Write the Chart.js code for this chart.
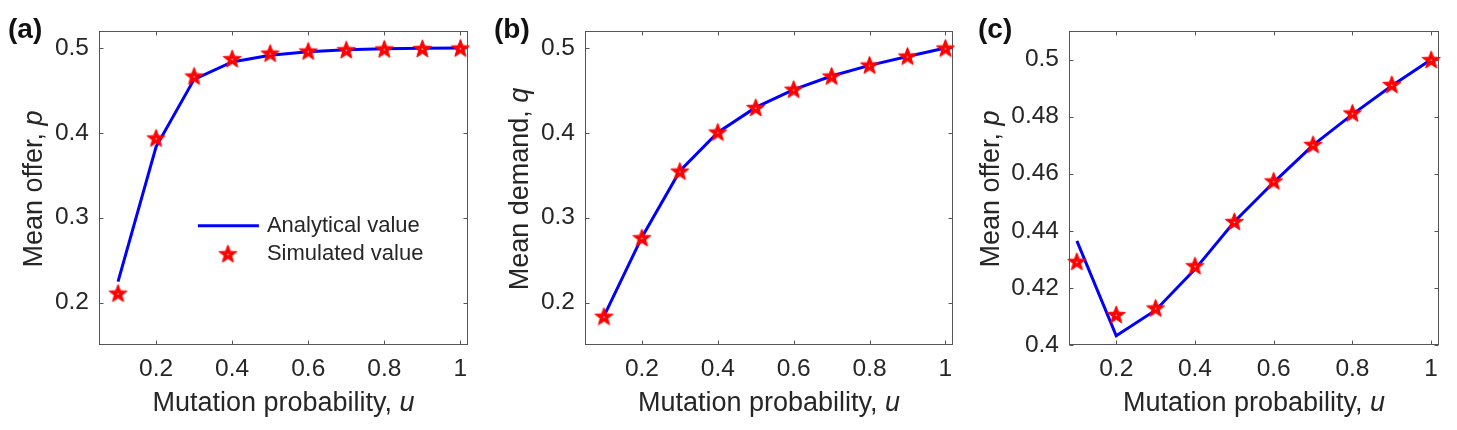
<!DOCTYPE html>
<html>
<head>
<meta charset="utf-8">
<script src="https://cdn.jsdelivr.net/npm/chart.js@4.4.1/dist/chart.umd.min.js"></script>
<style>
  html, body { margin: 0; padding: 0; background: #fff; }
  #wrap { position: relative; width: 1457px; height: 430px; overflow: hidden; }
  canvas { position: absolute; top: 0; }
</style>
</head>
<body>
<div id="wrap">
  <canvas id="panelA" width="490" height="430" style="left:0px"></canvas>
  <canvas id="panelB" width="490" height="430" style="left:490px"></canvas>
  <canvas id="panelC" width="487" height="430" style="left:970px"></canvas>
</div>
<script>
// mutation probability u
const u = [0.1, 0.2, 0.3, 0.4, 0.5, 0.6, 0.7, 0.8, 0.9, 1.0];

// (a) mean offer p
const analyticalA = [0.2247, 0.3835, 0.463, 0.4835, 0.4915, 0.4955, 0.4978, 0.499, 0.4996, 0.5];
const simulatedA  = [0.2112, 0.394, 0.467, 0.4875, 0.494, 0.4965, 0.498, 0.499, 0.4995, 0.5];

// (b) mean demand q
const analyticalB = [0.184, 0.277, 0.355, 0.4005, 0.43, 0.451, 0.467, 0.4795, 0.490, 0.5];
const simulatedB  = [0.1839, 0.2765, 0.355, 0.401, 0.43, 0.4515, 0.467, 0.48, 0.4905, 0.5];

// (c) mean offer p
const analyticalC = [0.4365, 0.4032, 0.4122, 0.4265, 0.4432, 0.457, 0.470, 0.4808, 0.4908, 0.5];
const simulatedC  = [0.4293, 0.4107, 0.413, 0.4278, 0.4433, 0.4575, 0.4703, 0.4813, 0.4913, 0.5];

const xTicks = [0.2, 0.4, 0.6, 0.8, 1];
const xTickLabels = ['0.2', '0.4', '0.6', '0.8', '1'];
const yTicksAB = [0.2, 0.3, 0.4, 0.5];
const yTickLabelsAB = ['0.2', '0.3', '0.4', '0.5'];
const yTicksC = [0.4, 0.42, 0.44, 0.46, 0.48, 0.5];
const yTickLabelsC = ['0.4', '0.42', '0.44', '0.46', '0.48', '0.5'];

const seriesLabels = ['Analytical value', 'Simulated value'];

const FONT = '"Liberation Sans", Arial, Helvetica, sans-serif';
const TEXT = '#262626';
const tickFont = 24.5;

function starMarker(r) {
  const size = Math.ceil(r * 2 + 4);
  const c = document.createElement('canvas');
  c.width = c.height = size;
  const g = c.getContext('2d');
  const cx = size / 2, cy = size / 2 + r * 0.09;
  g.beginPath();
  for (let i = 0; i < 10; i++) {
    const rad = i % 2 === 0 ? r : r * 0.42;
    const a = -Math.PI / 2 + i * Math.PI / 5;
    const px = cx + rad * Math.cos(a), py = cy + rad * Math.sin(a);
    if (i === 0) g.moveTo(px, py); else g.lineTo(px, py);
  }
  g.closePath();
  g.fillStyle = '#ff0000';
  g.fill();
  g.strokeStyle = '#ff0000';
  g.lineWidth = 1;
  g.stroke();
  g.fillStyle = '#ffd6d6';
  g.fillRect(cx - 0.7, cy - 0.7, 1.4, 1.4);
  return c;
}
const star = starMarker(9.5);

// box around the axes with inward ticks on all four sides
const framePlugin = {
  id: 'frame',
  beforeDatasetsDraw(chart) {
    const { ctx, chartArea: a, scales: { x, y } } = chart;
    const L = Math.round(a.left) + 0.5, R = Math.round(a.right) - 0.5;
    const T = Math.round(a.top) + 0.5, B = Math.round(a.bottom) - 0.5;
    ctx.save();
    ctx.strokeStyle = '#555';
    ctx.lineWidth = 1;
    ctx.strokeRect(L, T, R - L, B - T);
    ctx.beginPath();
    x.ticks.forEach(t => {
      const px = Math.round(x.getPixelForValue(t.value)) + 0.5;
      ctx.moveTo(px, B); ctx.lineTo(px, B - 4);
      ctx.moveTo(px, T); ctx.lineTo(px, T + 4);
    });
    y.ticks.forEach(t => {
      const py = Math.round(y.getPixelForValue(t.value)) + 0.5;
      ctx.moveTo(L, py); ctx.lineTo(L + 4, py);
      ctx.moveTo(R, py); ctx.lineTo(R - 4, py);
    });
    ctx.stroke();
    ctx.restore();
  }
};

function drawMixed(ctx, parts) {
  let w = 0;
  parts.forEach(p => { ctx.font = p[1]; w += ctx.measureText(p[0]).width; });
  let cx = -w / 2;
  parts.forEach(p => {
    ctx.font = p[1];
    ctx.fillText(p[0], cx, 0);
    cx += ctx.measureText(p[0]).width;
  });
}

// axis titles, panel letter and legend
const textPlugin = {
  id: 'texts',
  afterDraw(chart, args, opts) {
    const { ctx, chartArea: a } = chart;
    ctx.save();
    ctx.fillStyle = TEXT;
    ctx.textAlign = 'left';
    ctx.textBaseline = 'alphabetic';

    // x title
    ctx.save();
    ctx.translate((a.left + a.right) / 2, a.bottom + 66);
    drawMixed(ctx, [['Mutation probability, ', '27px ' + FONT], ['u', 'italic 27px ' + FONT]]);
    ctx.restore();

    // y title, placed left of the widest tick label
    ctx.font = tickFont + 'px ' + FONT;
    const widest = Math.max(...opts.yLabels.map(s => ctx.measureText(s).width));
    const labelsLeft = a.left - 10 - widest;
    ctx.save();
    ctx.translate(labelsLeft - 12.5, (a.top + a.bottom) / 2 + 1);
    ctx.rotate(-Math.PI / 2);
    drawMixed(ctx, [[opts.yTitle, '27px ' + FONT], [opts.yVar, 'italic 27px ' + FONT]]);
    ctx.restore();

    // panel letter
    ctx.font = 'bold 28px ' + FONT;
    ctx.textBaseline = 'middle';
    ctx.fillStyle = '#111';
    ctx.fillText(opts.letter, a.left - 91, 30);

    if (opts.legend) {
      const ds = chart.data.datasets;
      const x0 = a.left + 0.268 * a.width;
      const y0 = a.top + 0.62 * a.height;
      ctx.font = '22px ' + FONT;
      ctx.fillStyle = TEXT;
      ctx.strokeStyle = ds[0].borderColor;
      ctx.lineWidth = ds[0].borderWidth;
      ctx.beginPath();
      ctx.moveTo(x0, y0); ctx.lineTo(x0 + 61, y0);
      ctx.stroke();
      ctx.fillText(ds[0].label, x0 + 69, y0);
      ctx.drawImage(star, x0 + 30 - star.width / 2, y0 + 28 - star.height / 2);
      ctx.fillText(ds[1].label, x0 + 69, y0 + 28);
    }
    ctx.restore();
  }
};

function makePanel(id, analytical, simulated, yMin, yMax, xMin, yTicks, yLabels, plotLeft, plotRight, texts) {
  const canvas = document.getElementById(id);
  const W = canvas.width, H = canvas.height;
  return new Chart(canvas.getContext('2d'), {
    type: 'scatter',
    data: {
      datasets: [
        {
          label: seriesLabels[0],
          data: u.map((v, i) => ({ x: v, y: analytical[i] })),
          showLine: true,
          borderColor: '#0000ff',
          borderWidth: 3,
          borderJoinStyle: 'miter',
          pointRadius: 0,
          tension: 0,
          order: 1
        },
        {
          label: seriesLabels[1],
          data: u.map((v, i) => ({ x: v, y: simulated[i] })),
          pointStyle: star,
          pointRadius: 10,
          clip: false,
          order: 0
        }
      ]
    },
    options: {
      responsive: false,
      animation: false,
      events: [],
      layout: { padding: { top: 31, right: W - plotRight, left: 0, bottom: 0 } },
      plugins: {
        legend: { display: false },
        tooltip: { enabled: false },
        texts: texts
      },
      scales: {
        x: {
          type: 'linear',
          min: xMin,
          max: 1.02,
          grid: { display: false, drawTicks: false },
          border: { display: false },
          afterBuildTicks: s => { s.ticks = xTicks.map(v => ({ value: v })); },
          afterFit: s => { s.height = H - 345; },
          ticks: {
            padding: 10,
            color: TEXT,
            font: { family: FONT, size: tickFont },
            callback: v => xTickLabels[xTicks.indexOf(v)]
          }
        },
        y: {
          type: 'linear',
          min: yMin,
          max: yMax,
          grid: { display: false, drawTicks: false },
          border: { display: false },
          afterBuildTicks: s => { s.ticks = yTicks.map(v => ({ value: v })); },
          afterFit: s => { s.width = plotLeft; },
          ticks: {
            padding: 10,
            color: TEXT,
            font: { family: FONT, size: tickFont },
            callback: v => yLabels[yTicks.indexOf(v)]
          }
        }
      }
    },
    plugins: [framePlugin, textPlugin]
  });
}

makePanel('panelA', analyticalA, simulatedA, 0.15, 0.52, 0.05, yTicksAB, yTickLabelsAB, 99, 468,
  { yTitle: 'Mean offer, ', yVar: 'p', letter: '(a)', legend: true, yLabels: yTickLabelsAB });
makePanel('panelB', analyticalB, simulatedB, 0.15, 0.52, 0.05, yTicksAB, yTickLabelsAB, 95, 463,
  { yTitle: 'Mean demand, ', yVar: 'q', letter: '(b)', legend: false, yLabels: yTickLabelsAB });
makePanel('panelC', analyticalC, simulatedC, 0.4, 0.51, 0.08, yTicksC, yTickLabelsC, 99, 469,
  { yTitle: 'Mean offer, ', yVar: 'p', letter: '(c)', legend: false, yLabels: yTickLabelsC });
</script>
</body>
</html>
